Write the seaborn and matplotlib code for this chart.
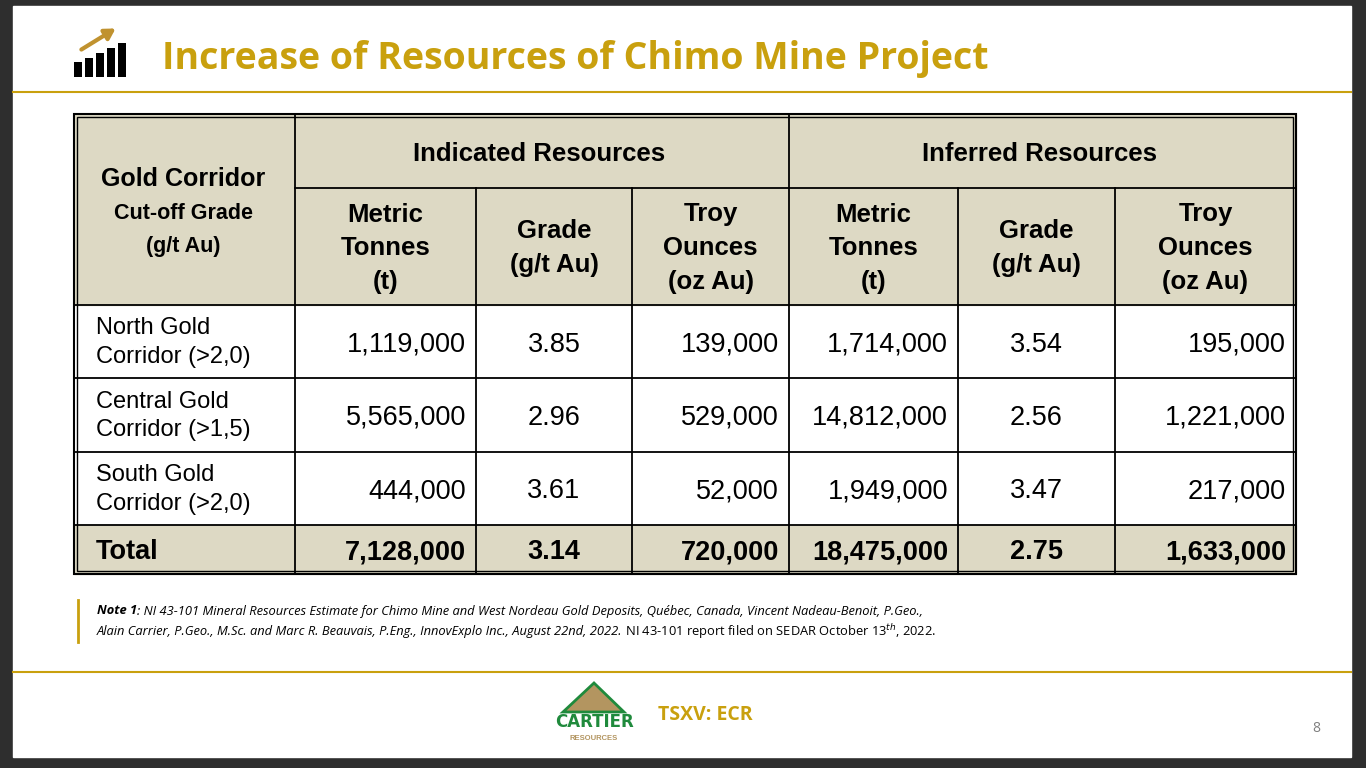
import matplotlib
matplotlib.use("Agg")
import matplotlib.pyplot as plt
from matplotlib.patches import Rectangle, Polygon
import seaborn as sns

title = "Increase of Resources of Chimo Mine Project"
group_headers = ["Indicated Resources", "Inferred Resources"]
first_header = ("Gold Corridor", "Cut-off Grade\n(g/t Au)")
sub_headers = ["Metric\nTonnes\n(t)", "Grade\n(g/t Au)", "Troy\nOunces\n(oz Au)",
               "Metric\nTonnes\n(t)", "Grade\n(g/t Au)", "Troy\nOunces\n(oz Au)"]
row_labels = ["North Gold\nCorridor (>2,0)", "Central Gold\nCorridor (>1,5)", "South Gold\nCorridor (>2,0)"]
ind_tonnes = ["1,119,000", "5,565,000", "444,000"]
ind_grade = ["3.85", "2.96", "3.61"]
ind_oz = ["139,000", "529,000", "52,000"]
inf_tonnes = ["1,714,000", "14,812,000", "1,949,000"]
inf_grade = ["3.54", "2.56", "3.47"]
inf_oz = ["195,000", "1,221,000", "217,000"]
total_label = "Total"
total_values = ["7,128,000", "3.14", "720,000", "18,475,000", "2.75", "1,633,000"]
icon_bars = [3, 4, 5, 6, 7]
note_line1 = "NI 43-101 Mineral Resources Estimate for Chimo Mine and West Nordeau Gold Deposits, Québec, Canada, Vincent Nadeau-Benoit, P.Geo.,"
note_line2a = "Alain Carrier, P.Geo., M.Sc. and Marc R. Beauvais, P.Eng., InnovExplo Inc., August 22nd, 2022."
note_line2b = " NI 43-101 report filed on SEDAR October 13$^{th}$, 2022."

GOLD = "#c9a00e"
TAN = "#ddd9c4"
fig = plt.figure(figsize=(13.66, 7.68), dpi=100)
fig.patch.set_facecolor("#2e2e2e")
ax = fig.add_axes([0, 0, 1, 1])
ax.set_xlim(0, 1366); ax.set_ylim(768, 0); ax.axis("off")
ax.add_patch(Rectangle((13, 6), 1338, 751, color="white", zorder=0))

ax.text(162, 54, title, fontsize=27, fontweight="bold", color=GOLD,
        family="Open Sans", va="center_baseline", ha="left")
ax.plot([13, 1351], [92, 92], color=GOLD, lw=1.5)
ax.plot([13, 1351], [672, 672], color=GOLD, lw=1.5)

iax = fig.add_axes([73/1366, 1-77/768, 54/1366, 34/768])
sns.barplot(x=list(range(len(icon_bars))), y=icon_bars, color="black", width=0.75, ax=iax)
iax.axis("off"); iax.set_ylim(0, 7)
ax.annotate("", xy=(118, 27), xytext=(79, 51),
            arrowprops=dict(arrowstyle="-|>,head_width=0.35,head_length=0.6", color="#c0922f", lw=3))

cols = [74, 295, 476, 632, 789, 958, 1115, 1296]
rows = [114, 305, 378, 452, 525, 574]
ax.add_patch(Rectangle((74, 114), 1222, 191, color=TAN, zorder=1))
ax.add_patch(Rectangle((74, 525), 1222, 49, color=TAN, zorder=1))
lw = 1.3
for y in rows[1:-1]:
    ax.plot([74, 1296], [y, y], color="black", lw=lw, zorder=3)
ax.plot([295, 1296], [188, 188], color="black", lw=lw, zorder=3)
for x in cols[1:-1]:
    top = 114 if x in (295, 789) else 188
    ax.plot([x, x], [top, 574], color="black", lw=lw, zorder=3)
ax.add_patch(Rectangle((74, 114), 1222, 460, fill=False, ec="black", lw=1.5, zorder=3))
ax.add_patch(Rectangle((77, 117), 1216, 454, fill=False, ec="black", lw=1.0, zorder=3))

F = "Liberation Sans"
ax.text(183, 179, first_header[0], fontsize=18, fontweight="bold", family=F, ha="center", va="center")
ax.text(183, 230, first_header[1], fontsize=15.5, fontweight="bold", family=F, ha="center", va="center", linespacing=1.8)
ax.text(539, 154, group_headers[0], fontsize=18.5, fontweight="bold", family=F, ha="center", va="center")
ax.text(1039, 154, group_headers[1], fontsize=18.5, fontweight="bold", family=F, ha="center", va="center")
for i, h in enumerate(sub_headers):
    cx = (cols[i+1] + cols[i+2]) / 2
    ax.text(cx, 248, h, fontsize=18.5, fontweight="bold", family=F, ha="center", va="center", linespacing=1.5)

data_cols = [ind_tonnes, ind_grade, ind_oz, inf_tonnes, inf_grade, inf_oz]
for r in range(3):
    cy = (rows[r+1] + rows[r+2]) / 2
    ax.text(96, cy + 1, row_labels[r], fontsize=17, family=F, ha="left", va="center", linespacing=1.4)
    for c, col in enumerate(data_cols):
        if c in (1, 4):
            ax.text((cols[c+1]+cols[c+2])/2, cy + 10, col[r], fontsize=19.5, family=F, ha="center", va="baseline")
        else:
            ax.text(cols[c+2]-10, cy + 10, col[r], fontsize=19.5, family=F, ha="right", va="baseline")
cy = 549
ax.text(96, cy + 10, total_label, fontsize=19.5, fontweight="bold", family=F, ha="left", va="baseline")
for c, v in enumerate(total_values):
    if c in (1, 4):
        ax.text((cols[c+1]+cols[c+2])/2, cy + 10, v, fontsize=19.5, fontweight="bold", family=F, ha="center", va="baseline")
    else:
        ax.text(cols[c+2]-10, cy + 10, v, fontsize=19.5, fontweight="bold", family=F, ha="right", va="baseline")

# note
ax.plot([78, 78], [600, 642], color=GOLD, lw=2)
NF = "Open Sans"
fs = 9.3
fig.canvas.draw()
r = fig.canvas.get_renderer()
t1 = ax.text(97, 611, "Note 1", fontsize=fs, fontweight="bold", style="italic", family=NF, va="center")
x1 = t1.get_window_extent(r).x1
ax.text(x1, 611, ": " + note_line1, fontsize=fs, style="italic", family=NF, va="center")
t2 = ax.text(97, 632, note_line2a, fontsize=fs, style="italic", family=NF, va="center")
x2 = t2.get_window_extent(r).x1
ax.text(x2, 632, note_line2b, fontsize=fs, family=NF, va="center")

ax.add_patch(Polygon([[563, 712], [594, 683], [624, 712]], closed=True, fc="#b39560", ec="#1f8a3c", lw=2))
ax.text(594, 722, "CARTIER", fontsize=12, fontweight="bold", color="#1f8a3c", family="Liberation Sans Narrow", ha="center", va="center")
ax.text(594, 739, "RESOURCES", fontsize=5.5, fontweight="bold", color="#b39560", family=F, ha="center", va="center")
ax.text(658, 715, "TSXV: ECR", fontsize=14, fontweight="bold", color=GOLD, family=NF, ha="left", va="center")
ax.text(1316, 729, "8", fontsize=10, color="#808080", family=NF, ha="center", va="center")

fig.savefig("out.png", dpi=100, facecolor=fig.get_facecolor())
